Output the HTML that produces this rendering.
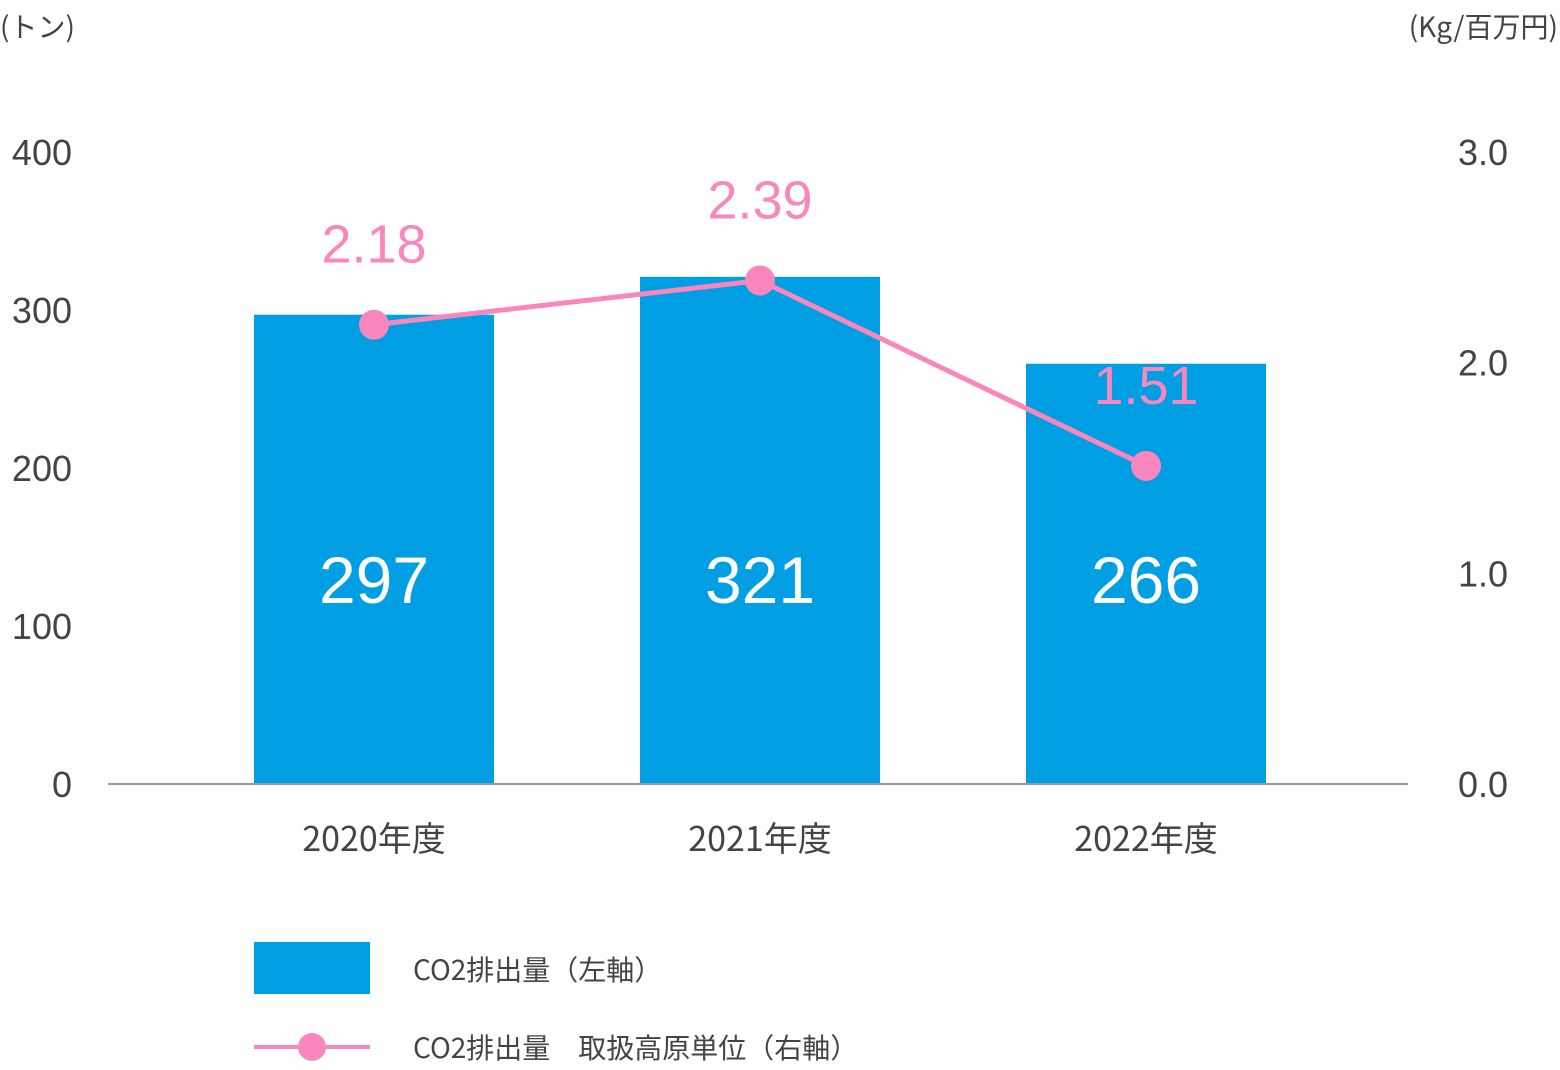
<!DOCTYPE html>
<html><head><meta charset="utf-8"><style>
html,body{margin:0;padding:0;background:#fff;}
svg{display:block;font-family:"Liberation Sans","Noto Sans CJK JP",sans-serif;}
</style></head><body>
<svg id="chart" width="1560" height="1070" viewBox="0 0 1560 1070" xmlns="http://www.w3.org/2000/svg">
<text x="0" y="37" font-size="28" fill="#444" font-family="Noto Sans CJK JP, sans-serif">(トン)</text>
<text x="1558" y="37" font-size="28" fill="#444" text-anchor="end" font-family="Noto Sans CJK JP, sans-serif">(Kg/百万円)</text>
<g id="bars"></g>
<line x1="108" y1="784" x2="1408" y2="784" stroke="#999" stroke-width="2"/>
<g id="ticks"></g>
<g id="line"></g>
<g>
<rect x="254" y="942" width="116" height="52" fill="#009fe3"/>
<text x="413" y="980" font-size="28" fill="#444" font-family="Noto Sans CJK JP, sans-serif">CO2排出量（左軸）</text>
<line x1="254" y1="1047" x2="370" y2="1047" stroke="#f987bd" stroke-width="4"/>
<circle cx="312" cy="1047" r="14" fill="#f987bd"/>
<text x="413" y="1058" font-size="28" fill="#444" font-family="Noto Sans CJK JP, sans-serif">CO2排出量　取扱高原単位（右軸）</text>
</g>
</svg>
<script>
const categories = ["2020年度","2021年度","2022年度"];
const emissions = [297,321,266];
const intensity = [2.18,2.39,1.51];
const leftTicks = [0,100,200,300,400];
const rightTicks = ["0.0","1.0","2.0","3.0"];

const NS="http://www.w3.org/2000/svg";
const y0=784, yTop=152;
const yL=v=>y0-(v/400)*(y0-yTop);
const yR=v=>y0-(v/3)*(y0-yTop);
const xC=i=>374+i*386;
function mk(tag,attrs,parent,text){const e=document.createElementNS(NS,tag);for(const k in attrs)e.setAttribute(k,attrs[k]);if(text!==undefined)e.textContent=text;parent.appendChild(e);return e;}
const bars=document.getElementById('bars'),ticks=document.getElementById('ticks'),line=document.getElementById('line');
leftTicks.forEach(t=>{const e=mk('text',{x:72,y:yL(t)+13,'font-size':36,fill:'#444','text-anchor':'end'},ticks,String(t));

});
rightTicks.forEach(t=>{const e=mk('text',{x:1458,y:yR(parseFloat(t))+13,'font-size':36,fill:'#444'},ticks,t);

});
categories.forEach((c,i)=>{
 const r=mk('rect',{x:xC(i)-120,y:yL(emissions[i]),width:240,height:y0-yL(emissions[i]),fill:'#009fe3'},bars);
 
 
 const v=mk('text',{x:xC(i),y:603,'font-size':66,fill:'#fff','text-anchor':'middle'},bars,String(emissions[i]));
 
 
 const l=mk('text',{x:xC(i),y:851,'font-size':34,fill:'#444','text-anchor':'middle','font-family':'Noto Sans CJK JP, sans-serif'},ticks,c);
 
 
});
const pts=intensity.map((v,i)=>xC(i)+','+yR(v)).join(' ');
const pl=mk('polyline',{points:pts,fill:'none',stroke:'#f987bd','stroke-width':5},line);


intensity.forEach((v,i)=>{
 const c=mk('circle',{cx:xC(i),cy:yR(v),r:15,fill:'#f987bd'},line);
 
 
 const t=mk('text',{x:xC(i),y:yR(v)-62,'font-size':54,fill:'#f987bd','text-anchor':'middle'},line,v.toFixed(2));
 
 
});
</script>
</body></html>
